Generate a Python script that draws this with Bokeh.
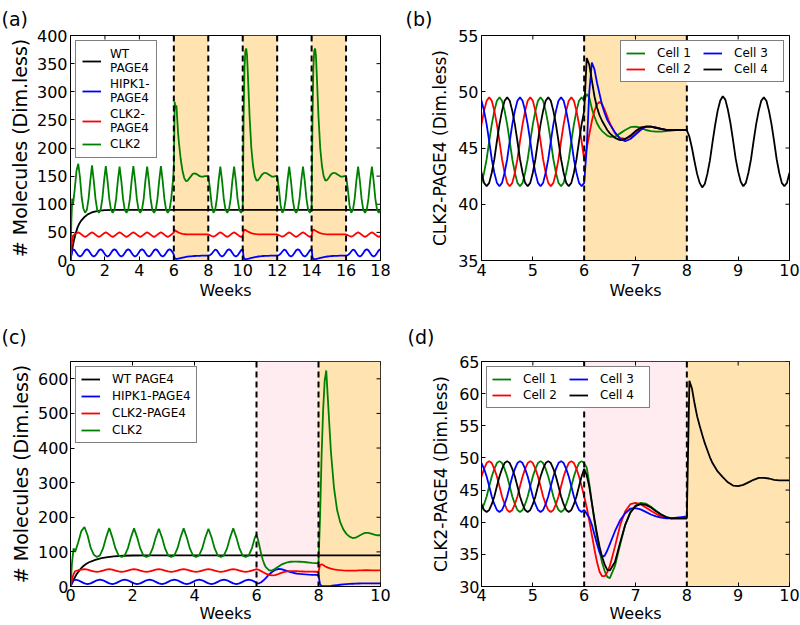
import numpy as np
from bokeh.plotting import figure
from bokeh.models import (BoxAnnotation, Span, Legend, LegendItem, FixedTicker)
from bokeh.layouts import column, row
from bokeh.embed import file_html
from bokeh.resources import INLINE

FONT = "DejaVu Sans"
GREEN, RED, BLUE, BLACK = "#008000", "#FF0000", "#0000FF", "#000000"
ORANGE_FILL, PINK_FILL = "#FFE4B2", "#FFECF0"

# ---------------------------------------------------------------- ticks
A_XTICKS = [0, 2, 4, 6, 8, 10, 12, 14, 16, 18]
A_YTICKS = [0, 50, 100, 150, 200, 250, 300, 350, 400]
B_XTICKS = [4, 5, 6, 7, 8, 9, 10]
B_YTICKS = [35, 40, 45, 50, 55]
C_XTICKS = [0, 2, 4, 6, 8, 10]
C_YTICKS = [0, 100, 200, 300, 400, 500, 600]
D_XTICKS = [4, 5, 6, 7, 8, 9, 10]
D_YTICKS = [30, 35, 40, 45, 50, 55, 60, 65]

# ---------------------------------------------------------------- intervention windows (weeks)
A_ORANGE = [(6, 8), (10, 12), (14, 16)]
A_DASHED = [6, 8, 10, 12, 14, 16]
B_ORANGE = [(6, 8)]
B_DASHED = [6, 8]
C_PINK, C_ORANGE = [(6, 8)], [(8, 10)]
C_DASHED = [6, 8]

# ---------------------------------------------------------------- sampling grids
PRE_T = [0.0, 0.05, 0.1, 0.15] + [round(0.25 + 0.1 * i, 2) for i in range(58)]   # 0 .. 5.95
OFF = [0.0, 0.05, 0.1, 0.15, 0.2, 0.25, 0.3] + [round(0.4 + 0.1 * i, 2) for i in range(17)]
OSC = [round(0.1 * i, 2) for i in range(21)]
CELL_PRE_T = [round(3.9 + 0.05 * i, 2) for i in range(43)]                    # 3.9 .. 6.0
TR_OFF = [round(0.05 * (i + 1), 2) for i in range(10)] + [round(0.6 + 0.1 * i, 2) for i in range(15)]
B_POST_T = [round(8.05 + 0.05 * i, 2) for i in range(40)]

# ---------------------------------------------------------------- panels (a)/(c): single cell, before week 6
BLACK_T = [0, 0.1, 0.2, 0.3, 0.4, 0.5, 0.6, 0.8, 1.0, 1.2, 1.4, 1.7, 2.0, 2.5, 18]
BLACK_V = [0, 20, 36, 48, 58, 65, 70, 77, 82, 85, 87, 88.8, 89.5, 90, 90]

PRE_GREEN = [0, 70, 110, 100, 128, 160, 172, 148, 112, 92, 85,
             90, 110, 142, 169, 142, 110, 90, 85,
             90, 110, 142, 168, 142, 110, 90, 85,
             90, 110, 142, 167, 142, 110, 90, 85,
             90, 110, 142, 168, 142, 110, 90, 85,
             90, 110, 142, 167, 142, 110, 90, 85,
             90, 110, 142, 168, 142, 110, 90, 85,
             90, 110, 142]
PRE_RED = [0, 22, 36, 44, 47, 48.5, 50, 48.5, 46, 43.5, 42,
           43.5, 46, 48.5, 50, 48.5, 46, 43.5, 42,
           43.5, 46, 48.5, 50, 48.5, 46, 43.5, 42,
           43.5, 46, 48.5, 50, 48.5, 46, 43.5, 42,
           43.5, 46, 48.5, 50, 48.5, 46, 43.5, 42,
           43.5, 46, 48.5, 50, 48.5, 46, 43.5, 42,
           43.5, 46, 48.5, 50, 48.5, 46, 43.5, 42,
           43.5, 46, 48.5]
PRE_BLUE = [0, 10, 17, 20, 18, 13.5, 9, 7, 9, 13.5, 18,
            20, 18, 13.5, 9, 7, 9, 13.5, 18,
            20, 18, 13.5, 9, 7, 9, 13.5, 18,
            20, 18, 13.5, 9, 7, 9, 13.5, 18,
            20, 18, 13.5, 9, 7, 9, 13.5, 18,
            20, 18, 13.5, 9, 7, 9, 13.5, 18,
            20, 18, 13.5, 9, 7, 9, 13.5, 18,
            20, 18, 13.5]

# (a) first stimulation window (6-8)
A6_GREEN = [165, 282, 270, 276, 250, 225, 208, 180, 160, 147, 141, 142, 146, 150,
            154, 155, 154, 152, 150, 149, 149, 150, 150, 150]
A6_RED = [50, 53.5, 53, 52, 51, 50, 49.3, 48.2, 47.5, 47, 46.7, 46.5, 46.4, 46.4,
          46.5, 46.5, 46.5, 46.4, 46.3, 46.3, 46.3, 46.3, 46.3, 46.3]
A6_BLUE = [10, 4, 3, 2.8, 3, 3.3, 3.6, 4.3, 5, 5.7, 6.3, 6.8, 7.2, 7.5,
           7.8, 8, 8.2, 8.3, 8.4, 8.5, 8.5, 8.6, 8.6, 8.6]
# (a) later stimulation windows (10-12, 14-16)
A10_GREEN = [90, 250, 340, 372, 377, 365, 330, 255, 200, 168, 150, 142, 143, 147,
             152, 155, 156, 155, 153, 151, 149, 149, 150, 150]
A10_RED = [43.5, 52, 55, 54.5, 53.5, 52.5, 51.5, 50, 48.7, 47.8, 47.2, 46.8, 46.5, 46.4,
           46.4, 46.5, 46.5, 46.5, 46.4, 46.3, 46.3, 46.3, 46.3, 46.3]
A10_BLUE = [20, 6, 3, 2.5, 2.5, 2.7, 3, 3.7, 4.5, 5.3, 6, 6.6, 7.1, 7.5,
            7.8, 8, 8.2, 8.3, 8.4, 8.5, 8.5, 8.6, 8.6, 8.6]
# (a) free-running windows (8-10, 12-14, 16-18)
A_OSC_GREEN = [150, 128, 98, 85, 90, 110, 142, 167, 142, 110, 90, 85, 90, 110, 142, 167,
               142, 110, 90, 85, 90]
A_OSC_RED = [46.3, 45, 43.5, 42.3, 43.5, 46, 48.5, 50, 48.5, 46, 43.5, 42, 43.5, 46, 48.5,
             50, 48.5, 46, 43.5, 42, 43.5]
A_OSC_BLUE = [8.6, 9.5, 12, 16, 19.5, 18, 13.5, 9, 7, 9, 13.5, 18, 20, 18, 13.5, 9, 7, 9,
              13.5, 18, 20]

# (c) pink window 6-8, orange window 8-10
C6_GREEN = [150, 135, 115, 95, 78, 65, 56, 47, 46, 51, 57, 63, 67, 70, 71.5, 72, 72, 71.5,
            71, 70, 69, 68, 67.5, 67]
C6_RED = [50, 49, 47, 44.5, 42, 39.5, 37, 33.5, 32, 33, 36, 39.5, 42, 43.5, 44.2, 44.3, 44,
          43.6, 43.3, 43, 42.8, 42.7, 42.6, 42.5]
C6_BLUE = [10, 9, 10, 12.5, 16, 20, 24.5, 34, 42, 48, 50.5, 50, 47.5, 44.5, 41.5, 39, 37.5,
           36.3, 35.5, 34.8, 34.2, 33.8, 33.5, 33.2]
C8_GREEN = [67, 200, 380, 510, 595, 624, 545, 390, 285, 221, 186, 165, 152, 144, 140, 141,
            146, 151, 155, 155, 153, 150, 148, 148]
C8_RED = [42.5, 62, 64.5, 62, 59, 56.5, 54.5, 51.5, 49.5, 48.2, 47.2, 46.4, 45.9, 45.6, 45.6,
          45.9, 46.3, 46.7, 46.9, 46.9, 46.8, 46.6, 46.5, 46.5]
C8_BLUE = [33, 6, 2, 1.2, 1, 1.1, 1.3, 2, 3, 4, 5, 6, 6.8, 7.4, 7.9, 8.3, 8.6, 8.8, 8.9, 9,
           9, 9, 9, 9]

# ---------------------------------------------------------------- panels (b)/(d): four cells
CELL1_PRE = [41.9, 41.6, 41.9, 42.8, 44.0, 45.6, 47.1, 48.3, 49.2, 49.5, 49.2, 48.3, 47.1,
             45.6, 44.0, 42.8, 41.9, 41.6, 41.9, 42.8, 44.0, 45.6, 47.1, 48.3, 49.2, 49.5,
             49.2, 48.3, 47.1, 45.6, 44.0, 42.8, 41.9, 41.6, 41.9, 42.8, 44.0, 45.6, 47.1,
             48.3, 49.2, 49.5, 49.2]
CELL2_PRE = [44.0, 45.6, 47.1, 48.3, 49.2, 49.5, 49.2, 48.3, 47.1, 45.6, 44.0, 42.8, 41.9,
             41.6, 41.9, 42.8, 44.0, 45.6, 47.1, 48.3, 49.2, 49.5, 49.2, 48.3, 47.1, 45.6,
             44.0, 42.8, 41.9, 41.6, 41.9, 42.8, 44.0, 45.6, 47.1, 48.3, 49.2, 49.5, 49.2,
             48.3, 47.1, 45.6, 44.0]
CELL3_PRE = [49.2, 49.5, 49.2, 48.3, 47.1, 45.6, 44.0, 42.8, 41.9, 41.6, 41.9, 42.8, 44.0,
             45.6, 47.1, 48.3, 49.2, 49.5, 49.2, 48.3, 47.1, 45.6, 44.0, 42.8, 41.9, 41.6,
             41.9, 42.8, 44.0, 45.6, 47.1, 48.3, 49.2, 49.5, 49.2, 48.3, 47.1, 45.6, 44.0,
             42.8, 41.9, 41.6, 41.9]
CELL4_PRE = [45.6, 44.0, 42.8, 41.9, 41.6, 41.9, 42.8, 44.0, 45.6, 47.1, 48.3, 49.2, 49.5,
             49.2, 48.3, 47.1, 45.6, 44.0, 42.8, 41.9, 41.6, 41.9, 42.8, 44.0, 45.6, 47.1,
             48.3, 49.2, 49.5, 49.2, 48.3, 47.1, 45.6, 44.0, 42.8, 41.9, 41.6, 41.9, 42.8,
             44.0, 45.6, 47.1, 48.3]

B_CELL1 = [49.8, 49.5, 48.5, 47.8, 47.2, 46.8, 46.5, 46.3, 46.1, 46.0, 46.0, 46.3, 46.6,
           46.85, 46.9, 46.8, 46.6, 46.5, 46.45, 46.45, 46.5, 46.55, 46.6, 46.6, 46.6]
B_CELL2 = [45.0, 46.2, 47.4, 48.3, 48.9, 49.1, 48.9, 48.4, 47.8, 47.2, 46.3, 45.9, 45.8,
           46.0, 46.4, 46.8, 46.9, 46.9, 46.8, 46.7, 46.6, 46.6, 46.6, 46.6, 46.6]
B_CELL3 = [45.0, 50.0, 52.6, 52.0, 50.8, 49.8, 48.8, 48.1, 47.5, 47.1, 46.4, 45.8, 45.6,
           45.8, 46.2, 46.6, 46.9, 46.9, 46.8, 46.7, 46.6, 46.6, 46.6, 46.6, 46.6]
B_CELL4 = [53.0, 52.4, 51.0, 49.6, 48.6, 47.9, 47.4, 47.0, 46.6, 46.3, 45.9, 45.7, 45.8,
           46.1, 46.5, 46.8, 46.9, 46.9, 46.8, 46.7, 46.6, 46.6, 46.6, 46.6, 46.6]
B_POST = [46.0, 45.0, 43.8, 42.7, 41.9, 41.5, 41.8, 42.7, 43.9, 45.5, 47.0, 48.3, 49.2, 49.6,
          49.3, 48.4, 47.2, 45.7, 44.1, 42.9, 42.0, 41.6, 41.9, 42.8, 44.0, 45.6, 47.1, 48.3,
          49.2, 49.5, 49.2, 48.3, 47.1, 45.6, 44.0, 42.8, 41.9, 41.6, 41.9, 42.8]

D_CELL1 = [48.5, 46.0, 43.0, 40.2, 37.7, 35.5, 33.7, 32.4, 31.5, 31.3, 33.2, 36.5, 39.6,
           41.6, 42.6, 43.0, 42.9, 42.4, 41.8, 41.2, 40.8, 40.6, 40.6, 40.6, 40.6]
D_CELL2 = [42.3, 40.2, 38.0, 35.8, 33.8, 32.3, 31.6, 31.6, 32.2, 33.2, 36.2, 39.5, 41.7,
           42.8, 43.0, 42.8, 42.3, 41.8, 41.3, 40.9, 40.7, 40.6, 40.6, 40.6, 40.6]
D_CELL3 = [41.3, 40.7, 39.6, 38.1, 36.6, 35.3, 34.6, 34.8, 35.6, 36.6, 38.6, 40.3, 41.4,
           42.1, 42.2, 42.0, 41.6, 41.2, 40.9, 40.7, 40.6, 40.6, 40.7, 40.8, 40.9]
D_CELL4 = [47.3, 45.5, 43.0, 40.5, 38.2, 36.2, 34.6, 33.4, 32.6, 32.5, 33.8, 36.8, 39.6,
           41.5, 42.5, 42.8, 42.7, 42.3, 41.7, 41.2, 40.8, 40.6, 40.6, 40.6, 40.6]
D_POST = [62.0, 60.8, 58.5, 56.5, 55.0, 53.6, 52.3, 51.2, 50.1, 49.2, 47.9, 47.0, 46.2,
          45.7, 45.6, 45.8, 46.2, 46.6, 46.9, 46.9, 46.8, 46.6, 46.5, 46.5, 46.5]


# ---------------------------------------------------------------- helpers
def shift(offsets, start):
    return [round(start + o, 3) for o in offsets]


def make_fig(w, h, xr, yr, xticks, yticks, bl, br, bt, bb, tag, tag_offset, tag_standoff,
             xlabel_std, ylabel, ylabel_size, ylabel_std, tick_std):
    p = figure(width=w, height=h, x_range=xr, y_range=yr, output_backend="svg",
               toolbar_location=None, min_border_left=bl, min_border_right=br,
               min_border_top=bt, min_border_bottom=bb, title=tag)
    p.title.align = "left"
    p.title.offset = tag_offset
    p.title.standoff = tag_standoff
    p.title.text_font = FONT
    p.title.text_font_size = "19px"
    p.title.text_font_style = "normal"
    p.title.text_color = "black"
    p.xgrid.visible = False
    p.ygrid.visible = False
    p.outline_line_color = "black"
    p.outline_line_width = 1
    p.outline_line_alpha = 1
    p.background_fill_color = "white"
    p.border_fill_color = "white"
    xa, ya = p.below[0], p.left[0]
    for ax, ticks in ((xa, xticks), (ya, yticks)):
        ax.ticker = FixedTicker(ticks=ticks)
        ax.major_tick_in = 4
        ax.major_tick_out = 0
        ax.major_tick_line_color = "black"
        ax.minor_tick_line_color = None
        ax.major_label_text_font = FONT
        ax.major_label_text_font_size = "16px"
        ax.major_label_text_color = "black"
        ax.major_label_standoff = tick_std
        ax.axis_line_color = "black"
        ax.axis_label_text_font = FONT
        ax.axis_label_text_font_style = "normal"
        ax.axis_label_text_color = "black"
    xa.axis_label = "Weeks"
    xa.axis_label_text_font_size = "16px"
    xa.axis_label_standoff = xlabel_std
    ya.axis_label = ylabel
    ya.axis_label_text_font_size = ylabel_size
    ya.axis_label_standoff = ylabel_std
    # inward tick marks mirrored on the top and right edges of the frame
    p.scatter(xticks, [yr[1]] * len(xticks), marker="dash", size=8, angle=np.pi / 2,
              line_color="black", line_width=1)
    p.scatter([xr[1]] * len(yticks), yticks, marker="dash", size=8, angle=0,
              line_color="black", line_width=1)
    return p


def shade(p, spans, color):
    for (a, b) in spans:
        p.add_layout(BoxAnnotation(left=a, right=b, fill_color=color, fill_alpha=1.0,
                                   line_color=None, level="underlay"))


def dashed(p, locs):
    for x in locs:
        p.add_layout(Span(location=x, dimension="height", line_color="black",
                          line_width=2, line_dash="6 4"))


LW = 1.8
MOL = "# Molecules (Dim.less)"
CLK = "CLK2-PAGE4 (Dim.less)"
LEGEND_TEXT = dict(label_text_font=FONT, label_text_font_size="12px", label_text_color="black",
                   border_line_color="black", border_line_width=1,
                   background_fill_color="white", background_fill_alpha=1.0)

# ================================================================ (a)
pa = make_fig(400, 310, (0, 18), (0, 400), A_XTICKS, A_YTICKS, 70, 20, 33, 50,
              "(a)", -69, 11, 2, MOL, "19px", 3, 3)
shade(pa, A_ORANGE, ORANGE_FILL)
dashed(pa, A_DASHED)

a_t = (PRE_T + shift(OFF, 6) + shift(OSC, 8) + shift(OFF, 10) + shift(OSC, 12)
       + shift(OFF, 14) + shift(OSC, 16))
a_green = PRE_GREEN + A6_GREEN + A_OSC_GREEN + A10_GREEN + A_OSC_GREEN + A10_GREEN + A_OSC_GREEN
a_red = PRE_RED + A6_RED + A_OSC_RED + A10_RED + A_OSC_RED + A10_RED + A_OSC_RED
a_blue = PRE_BLUE + A6_BLUE + A_OSC_BLUE + A10_BLUE + A_OSC_BLUE + A10_BLUE + A_OSC_BLUE

ra_k = pa.line(BLACK_T, BLACK_V, line_color=BLACK, line_width=LW)
ra_b = pa.line(a_t, a_blue, line_color=BLUE, line_width=LW)
ra_r = pa.line(a_t, a_red, line_color=RED, line_width=LW)
ra_g = pa.line(a_t, a_green, line_color=GREEN, line_width=LW)

leg_a = Legend(items=[LegendItem(label="WT\nPAGE4", renderers=[ra_k]),
                      LegendItem(label="HIPK1-\nPAGE4", renderers=[ra_b]),
                      LegendItem(label="CLK2-\nPAGE4", renderers=[ra_r]),
                      LegendItem(label="CLK2", renderers=[ra_g])],
               location="top_left", margin=5, padding=6, spacing=2, glyph_width=19,
               glyph_height=14, label_standoff=9, label_height=14, **LEGEND_TEXT)
pa.add_layout(leg_a)

# ================================================================ (b)
pb = make_fig(400, 310, (4, 10), (35, 55), B_XTICKS, B_YTICKS, 81, 11, 33, 50,
              "(b)", -76, 11, 2, CLK, "17px", 5, 3)
shade(pb, B_ORANGE, ORANGE_FILL)
dashed(pb, B_DASHED)

tr6 = shift(TR_OFF, 6)
rb1 = pb.line(CELL_PRE_T + tr6, CELL1_PRE + B_CELL1, line_color=GREEN, line_width=LW)
rb2 = pb.line(CELL_PRE_T + tr6, CELL2_PRE + B_CELL2, line_color=RED, line_width=LW)
rb3 = pb.line(CELL_PRE_T + tr6, CELL3_PRE + B_CELL3, line_color=BLUE, line_width=LW)
rb4 = pb.line(CELL_PRE_T + tr6 + B_POST_T, CELL4_PRE + B_CELL4 + B_POST,
              line_color=BLACK, line_width=LW)

cell_legend_kw = dict(ncols=2, margin=5, padding=5, spacing=2, glyph_width=19, glyph_height=14,
                      label_standoff=12, label_height=14, label_width=44, **LEGEND_TEXT)
leg_b = Legend(items=[LegendItem(label="Cell 1", renderers=[rb1]),
                      LegendItem(label="Cell 2", renderers=[rb2]),
                      LegendItem(label="Cell 3", renderers=[rb3]),
                      LegendItem(label="Cell 4", renderers=[rb4])],
               location="top_right", **cell_legend_kw)
pb.add_layout(leg_b)

# ================================================================ (c)
pc = make_fig(400, 315, (0, 10), (0, 650), C_XTICKS, C_YTICKS, 70, 20, 50, 38,
              "(c)", -69, 27, 0, MOL, "19px", 3, 2)
shade(pc, C_PINK, PINK_FILL)
shade(pc, C_ORANGE, ORANGE_FILL)
dashed(pc, C_DASHED)

c_t = PRE_T + shift(OFF, 6) + shift(OFF, 8)
rc_k = pc.line(BLACK_T, BLACK_V, line_color=BLACK, line_width=LW)
rc_b = pc.line(c_t, PRE_BLUE + C6_BLUE + C8_BLUE, line_color=BLUE, line_width=LW)
rc_r = pc.line(c_t, PRE_RED + C6_RED + C8_RED, line_color=RED, line_width=LW)
rc_g = pc.line(c_t, PRE_GREEN + C6_GREEN + C8_GREEN, line_color=GREEN, line_width=LW)

leg_c = Legend(items=[LegendItem(label="WT PAGE4", renderers=[rc_k]),
                      LegendItem(label="HIPK1-PAGE4", renderers=[rc_b]),
                      LegendItem(label="CLK2-PAGE4", renderers=[rc_r]),
                      LegendItem(label="CLK2", renderers=[rc_g])],
               location="top_left", margin=5, padding=5, spacing=3, glyph_width=19,
               glyph_height=14, label_standoff=12, label_height=14, **LEGEND_TEXT)
pc.add_layout(leg_c)

# ================================================================ (d)
pd_ = make_fig(400, 315, (4, 10), (30, 65), D_XTICKS, D_YTICKS, 81, 11, 50, 38,
               "(d)", -74, 27, 0, CLK, "17px", 5, 2)
shade(pd_, C_PINK, PINK_FILL)
shade(pd_, C_ORANGE, ORANGE_FILL)
dashed(pd_, C_DASHED)

tr8 = shift(TR_OFF, 8)
rd1 = pd_.line(CELL_PRE_T + tr6, CELL1_PRE + D_CELL1, line_color=GREEN, line_width=LW)
rd2 = pd_.line(CELL_PRE_T + tr6, CELL2_PRE + D_CELL2, line_color=RED, line_width=LW)
rd3 = pd_.line(CELL_PRE_T + tr6, CELL3_PRE + D_CELL3, line_color=BLUE, line_width=LW)
rd4 = pd_.line(CELL_PRE_T + tr6 + tr8, CELL4_PRE + D_CELL4 + D_POST,
               line_color=BLACK, line_width=LW)
leg_d = Legend(items=[LegendItem(label="Cell 1", renderers=[rd1]),
                      LegendItem(label="Cell 2", renderers=[rd2]),
                      LegendItem(label="Cell 3", renderers=[rd3]),
                      LegendItem(label="Cell 4", renderers=[rd4])],
               location="top_left", **cell_legend_kw)
pd_.add_layout(leg_d)

layout = column(row(pa, pb), row(pc, pd_))
open("out.html", "w").write(file_html(layout, INLINE))
